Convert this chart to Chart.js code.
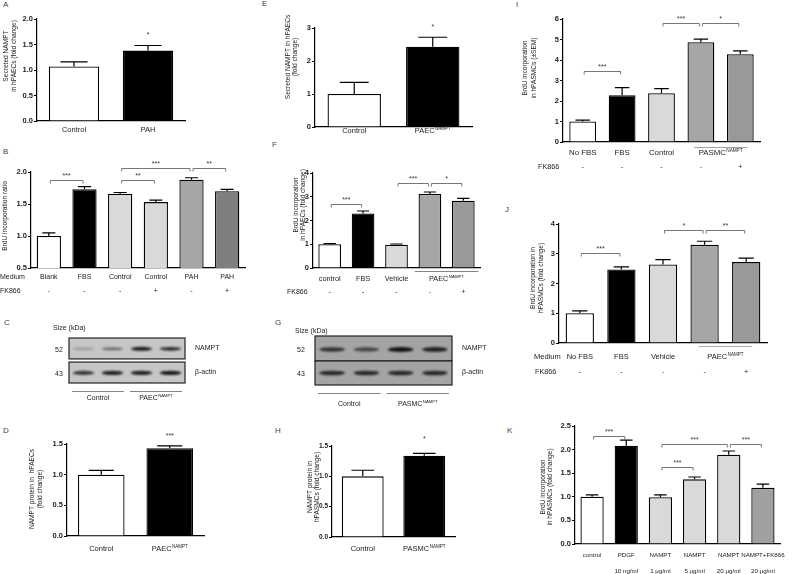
<!DOCTYPE html>
<html>
<head>
<meta charset="utf-8">
<script src="https://cdn.jsdelivr.net/npm/chart.js@4.4.1/dist/chart.umd.min.js"></script>
<style>
  body { margin: 0; background: #fff; }
  #fig { position: relative; width: 800px; height: 574px; overflow: hidden; font-family: "Liberation Sans", Arial, sans-serif; }
  .panel { position: absolute; }
  .letter { position: absolute; font-size: 8px; line-height: 8px; color: #444; }
</style>
</head>
<body>
<div id="fig">
  <div class="letter" style="left:3px;top:1px">A</div>
  <div class="letter" style="left:3px;top:148px">B</div>
  <div class="letter" style="left:4px;top:319px">C</div>
  <div class="letter" style="left:3px;top:427px">D</div>
  <div class="letter" style="left:262px;top:0px">E</div>
  <div class="letter" style="left:272px;top:141px">F</div>
  <div class="letter" style="left:275px;top:319px">G</div>
  <div class="letter" style="left:275px;top:427px">H</div>
  <div class="letter" style="left:516px;top:1px">I</div>
  <div class="letter" style="left:505px;top:206px">J</div>
  <div class="letter" style="left:507px;top:427px">K</div>
</div>
<script>
// ---- data ----
// A: secreted NAMPT in hPAECs
const aLabels = ["Control", "PAH"];
const aValues = [1.07, 1.38];
const aSem = [0.09, 0.10];

// B: BrdU incorporation ratio
const bLabels = ["Blank", "FBS", "Control", "Control", "PAH", "PAH"];
const bFk866 = ["-", "-", "-", "+", "-", "+"];
const bValues = [1.0, 1.73, 1.66, 1.53, 1.88, 1.70];
const bSem = [0.05, 0.04, 0.02, 0.03, 0.03, 0.03];

// C: western blot, band strength per lane
const cGroups = ["Control", "PAEC^NAMPT"];
const cNampt = [0.25, 0.5, 0.95, 0.85];
const cActin = [0.8, 0.9, 0.9, 0.95];

// D: NAMPT protein in hPAECs
const dLabels = ["Control", "PAEC^NAMPT"];
const dValues = [1.0, 1.43];
const dSem = [0.07, 0.04];

// E: secreted NAMPT in hPAECs
const eLabels = ["Control", "PAEC^NAMPT"];
const eValues = [1.0, 2.43];
const eSem = [0.35, 0.29];

// F: BrdU incorporation in hPAECs
const fLabels = ["control", "FBS", "Vehicle", "PAEC^NAMPT", "PAEC^NAMPT"];
const fFk866 = ["-", "-", "-", "-", "+"];
const fValues = [1.0, 2.3, 0.98, 3.12, 2.83];
const fSem = [0.03, 0.1, 0.03, 0.08, 0.1];

// G: western blot
const gGroups = ["Control", "PASMC^NAMPT"];
const gNampt = [0.8, 0.65, 1.0, 0.9];
const gActin = [0.85, 0.85, 0.85, 0.85];

// H: NAMPT protein in hPASMCs
const hLabels = ["Control", "PASMC^NAMPT"];
const hValues = [1.0, 1.34];
const hSem = [0.1, 0.04];

// I: BrdU incorporation in hPASMCs
const iLabels = ["No FBS", "FBS", "Control", "PASMC^NAMPT", "PASMC^NAMPT"];
const iFk866 = ["-", "-", "-", "-", "+"];
const iValues = [1.0, 2.28, 2.38, 4.87, 4.28];
const iSem = [0.07, 0.37, 0.22, 0.15, 0.17];

// J: BrdU incorporation in hPASMCs
const jLabels = ["No FBS", "FBS", "Vehicle", "PAEC^NAMPT", "PAEC^NAMPT"];
const jFk866 = ["-", "-", "-", "-", "+"];
const jValues = [1.0, 2.47, 2.64, 3.3, 2.72];
const jSem = [0.08, 0.09, 0.16, 0.12, 0.13];

// K: BrdU incorporation, NAMPT doses
const kLabels = ["control", "PDGF", "NAMPT", "NAMPT", "NAMPT", "NAMPT+FK866"];
const kDoses = ["", "10 ng/ml", "1 μg/ml", "5 μg/ml", "20 μg/ml", "20 μg/ml"];
const kValues = [1.0, 2.08, 0.99, 1.37, 1.89, 1.19];
const kSem = [0.04, 0.12, 0.05, 0.05, 0.08, 0.08];

// ---- drawing helpers ----
const fig = document.getElementById("fig");
const FONT = '"Liberation Sans", Arial, sans-serif';

function makeCanvas(rect) {
  const box = document.createElement("div");
  box.className = "panel";
  box.style.left = rect[0] + "px";
  box.style.top = rect[1] + "px";
  box.style.width = rect[2] + "px";
  box.style.height = rect[3] + "px";
  const canvas = document.createElement("canvas");
  box.appendChild(canvas);
  fig.appendChild(box);
  return canvas;
}

// label "PAEC^NAMPT" -> PAEC with superscript NAMPT
function drawLabel(ctx, label, x, y, size, align) {
  const parts = label.split("^");
  const supSize = size * 0.6;
  ctx.font = size + "px " + FONT;
  const w1 = ctx.measureText(parts[0]).width;
  let w2 = 0;
  if (parts[1]) {
    ctx.font = supSize + "px " + FONT;
    w2 = ctx.measureText(parts[1]).width + 0.5;
  }
  const x0 = align === "left" ? x : x - (w1 + w2) / 2;
  ctx.textAlign = "left";
  ctx.textBaseline = "middle";
  ctx.font = size + "px " + FONT;
  ctx.fillText(parts[0], x0, y);
  if (parts[1]) {
    ctx.font = supSize + "px " + FONT;
    ctx.fillText(parts[1], x0 + w1 + 0.5, y - size * 0.32);
  }
}

function drawTitle(ctx, lines, xs, cy, size) {
  ctx.save();
  ctx.font = size + "px " + FONT;
  ctx.textAlign = "center";
  ctx.textBaseline = "middle";
  lines.forEach((line, k) => {
    ctx.save();
    ctx.translate(xs[k], cy);
    ctx.rotate(-Math.PI / 2);
    ctx.fillText(line, 0, 0);
    ctx.restore();
  });
  ctx.restore();
}

function barAnnotations(opt) {
  const [L, T] = opt.rect;
  return {
    id: "annot",
    afterDatasetsDraw(chart) {
      const ctx = chart.ctx;
      const xs = chart.scales.x;
      const ys = chart.scales.y;
      const meta = chart.getDatasetMeta(0);
      ctx.save();

      // error bars (SEM, upward)
      ctx.strokeStyle = "#000";
      ctx.lineWidth = 1.2;
      meta.data.forEach((bar, i) => {
        const top = ys.getPixelForValue(opt.values[i] + opt.sem[i]);
        const cap = bar.width * 0.27;
        ctx.beginPath();
        ctx.moveTo(bar.x, bar.y);
        ctx.lineTo(bar.x, top);
        ctx.moveTo(bar.x - cap, top);
        ctx.lineTo(bar.x + cap, top);
        ctx.stroke();
      });

      // significance brackets
      ctx.fillStyle = "#333";
      ctx.strokeStyle = "#555";
      ctx.lineWidth = 0.8;
      (opt.brackets || []).forEach(([a, b, v, txt]) => {
        const x1 = xs.getPixelForValue(a) + 1.5;
        const x2 = xs.getPixelForValue(b) - 1.5;
        const y = Math.round(ys.getPixelForValue(v)) + 0.5;
        ctx.beginPath();
        ctx.moveTo(x1, y + 3);
        ctx.lineTo(x1, y);
        ctx.lineTo(x2, y);
        ctx.lineTo(x2, y + 3);
        ctx.stroke();
        ctx.font = "7px " + FONT;
        ctx.textAlign = "center";
        ctx.textBaseline = "middle";
        ctx.fillText(txt, (x1 + x2) / 2, y - 4);
      });
      (opt.stars || []).forEach(([a, v, txt]) => {
        ctx.font = "7px " + FONT;
        ctx.textAlign = "center";
        ctx.textBaseline = "middle";
        ctx.fillText(txt, xs.getPixelForValue(a), ys.getPixelForValue(v));
      });

      // category rows under the axis
      ctx.fillStyle = "#222";
      opt.rows.forEach(row => {
        const items = [];
        row.texts.forEach((t, i) => {
          const last = items[items.length - 1];
          if (row.merge && last && last.text === t) last.to = i;
          else items.push({ text: t, from: i, to: i });
        });
        items.forEach(it => {
          if (!it.text) return;
          const x = (xs.getPixelForValue(it.from) + xs.getPixelForValue(it.to)) / 2;
          drawLabel(ctx, it.text, x, row.y - T, row.size || 7.2);
        });
        if (row.head) drawLabel(ctx, row.head, row.headX - L, row.y - T, row.size || 7.2, "left");
      });

      // group underline
      if (opt.underline) {
        const u = opt.underline;
        ctx.strokeStyle = u.color || "#666";
        ctx.lineWidth = 0.8;
        ctx.beginPath();
        ctx.moveTo(xs.getPixelForValue(u.from) - u.ext, u.y - T + 0.5);
        ctx.lineTo(xs.getPixelForValue(u.to) + u.ext, u.y - T + 0.5);
        ctx.stroke();
      }

      // y axis title
      ctx.fillStyle = "#222";
      drawTitle(ctx, opt.title.lines, opt.title.xs.map(x => x - L), opt.title.cy - T, opt.title.size || 6.6);
      ctx.restore();
    }
  };
}

function barPanel(opt) {
  const [L, T, W, H] = opt.rect;
  const canvas = makeCanvas(opt.rect);
  return new Chart(canvas, {
    type: "bar",
    data: {
      labels: opt.labels,
      datasets: [{
        data: opt.values,
        backgroundColor: opt.colors,
        borderColor: "#000",
        borderWidth: 1.3,
        barPercentage: 0.68,
        categoryPercentage: 1
      }]
    },
    options: {
      responsive: true,
      maintainAspectRatio: false,
      animation: false,
      events: [],
      layout: { padding: { left: 0, bottom: 0, top: opt.area.top - T, right: L + W - opt.area.right } },
      plugins: { legend: { display: false }, tooltip: { enabled: false } },
      scales: {
        x: {
          grid: { display: false },
          border: { color: "#000", width: 1.2 },
          ticks: { display: false },
          afterFit: s => { s.height = T + H - opt.area.bottom; }
        },
        y: {
          min: opt.yMin,
          max: opt.yMax,
          ticks: {
            stepSize: opt.yStep,
            callback: v => v.toFixed(opt.dec),
            font: { family: FONT, size: opt.tickSize || 7.5, weight: "bold" },
            color: "#222",
            padding: 1
          },
          grid: { drawOnChartArea: false, color: "#000", tickLength: 3, lineWidth: 1 },
          border: { color: "#000", width: 1.2 },
          afterFit: s => { s.width = opt.area.left - L; }
        }
      }
    },
    plugins: [barAnnotations(opt)]
  });
}

function blotPanel(opt) {
  const [L, T, W, H] = opt.rect;
  const canvas = makeCanvas(opt.rect);
  const blot = {
    id: "blot",
    afterDraw(chart) {
      const ctx = chart.ctx;
      const xs = chart.scales.x;
      const ys = chart.scales.y;
      const a = chart.chartArea;
      const laneW = xs.getPixelForValue(1) - xs.getPixelForValue(0);
      ctx.save();
      opt.strips.forEach(st => {
        const y0 = ys.getPixelForValue(st.hi);
        const y1 = ys.getPixelForValue(st.lo);
        ctx.fillStyle = opt.bg;
        ctx.fillRect(a.left, y0, a.right - a.left, y1 - y0);
        ctx.save();
        ctx.beginPath();
        ctx.rect(a.left, y0, a.right - a.left, y1 - y0);
        ctx.clip();
        ctx.filter = "blur(1.2px)";
        st.bands.forEach((s, i) => {
          const cx = xs.getPixelForValue(i + 0.5);
          const cy = ys.getPixelForValue(st.at);
          const bw = laneW * 0.74;
          const bh = st.thick * (0.55 + 0.45 * s);
          ctx.fillStyle = "rgba(18,18,18," + s + ")";
          ctx.beginPath();
          ctx.ellipse(cx, cy, bw / 2, bh / 2, 0, 0, Math.PI * 2);
          ctx.fill();
        });
        ctx.restore();
        ctx.strokeStyle = "#222";
        ctx.lineWidth = 1.2;
        ctx.strokeRect(a.left, y0, a.right - a.left, y1 - y0);
        ctx.fillStyle = "#222";
        drawLabel(ctx, st.size, opt.sizeX - L, ys.getPixelForValue(st.at) + 1, 7, "center");
        drawLabel(ctx, st.name, a.right + 10, ys.getPixelForValue(st.at) - 1, 7, "left");
      });
      drawLabel(ctx, "Size (kDa)", opt.headX - L, opt.headY - T, 7, "left");
      // group lines and labels
      opt.groups.forEach((g, k) => {
        const x1 = xs.getPixelForValue(k * 2) + 3;
        const x2 = xs.getPixelForValue(k * 2 + 2) - 3;
        ctx.strokeStyle = "#666";
        ctx.lineWidth = 0.8;
        ctx.beginPath();
        ctx.moveTo(x1, opt.lineY - T + 0.5);
        ctx.lineTo(x2, opt.lineY - T + 0.5);
        ctx.stroke();
        ctx.fillStyle = "#222";
        drawLabel(ctx, g, (x1 + x2) / 2, opt.textY - T, 7);
      });
      ctx.restore();
    }
  };
  return new Chart(canvas, {
    type: "scatter",
    data: { datasets: [{ data: [] }] },
    options: {
      responsive: true,
      maintainAspectRatio: false,
      animation: false,
      events: [],
      layout: { padding: { left: opt.box.left - L, right: L + W - opt.box.right, top: opt.box.top - T, bottom: T + H - opt.box.bottom } },
      plugins: { legend: { display: false }, tooltip: { enabled: false } },
      scales: {
        x: { type: "linear", min: 0, max: 4, display: false },
        y: { type: "linear", min: 0, max: 2, display: false }
      }
    },
    plugins: [blot]
  });
}

// ---- panels ----
barPanel({
  rect: [0, 8, 200, 130], area: { left: 37, right: 185, top: 19, bottom: 121 },
  yMin: 0, yMax: 2, yStep: 0.5, dec: 1,
  labels: aLabels, values: aValues, sem: aSem, colors: ["#ffffff", "#000000"],
  stars: [[1, 1.69, "*"]],
  rows: [{ y: 130, texts: aLabels, size: 7.5 }],
  title: { lines: ["Secreted NAMPT", "in hPAECs (fold change)"], xs: [6, 14], cy: 56 }
});

barPanel({
  rect: [0, 150, 255, 150], area: { left: 31, right: 245, top: 172, bottom: 268 },
  yMin: 0.5, yMax: 2, yStep: 0.5, dec: 1,
  labels: bLabels, values: bValues, sem: bSem,
  colors: ["#ffffff", "#000000", "#d9d9d9", "#d9d9d9", "#a6a6a6", "#7f7f7f"],
  brackets: [[0, 1, 1.875, "***"], [2, 3, 1.875, "**"], [2, 4, 2.06, "***"], [4, 5, 2.06, "**"]],
  rows: [
    { y: 277, texts: bLabels, head: "Medium", headX: 0, size: 7 },
    { y: 291, texts: bFk866, head: "FK866", headX: 0, size: 7 }
  ],
  title: { lines: ["BrdU incorporation ratio"], xs: [5], cy: 216 }
});

blotPanel({
  rect: [0, 320, 255, 85], box: { left: 69, right: 185, top: 338, bottom: 383 },
  bg: "#c6c6c6", sizeX: 59, headX: 53, headY: 328, lineY: 391, textY: 398,
  groups: cGroups,
  strips: [
    { hi: 2, lo: 1.07, at: 1.52, bands: cNampt, thick: 4, size: "52", name: "NAMPT" },
    { hi: 0.93, lo: 0, at: 0.45, bands: cActin, thick: 4.5, size: "43", name: "β-actin" }
  ]
});

barPanel({
  rect: [0, 428, 215, 135], area: { left: 67, right: 204, top: 444, bottom: 536 },
  yMin: 0, yMax: 1.5, yStep: 0.5, dec: 1,
  labels: dLabels, values: dValues, sem: dSem, colors: ["#ffffff", "#000000"],
  stars: [[1, 1.63, "***"]],
  rows: [{ y: 549, texts: dLabels, size: 7.5 }],
  title: { lines: ["NAMPT protein in  hPAECs", "(fold change)"], xs: [32, 40], cy: 489 }
});

barPanel({
  rect: [258, 8, 222, 130], area: { left: 315, right: 472, top: 28, bottom: 127 },
  yMin: 0, yMax: 3, yStep: 1, dec: 0,
  labels: eLabels, values: eValues, sem: eSem, colors: ["#ffffff", "#000000"],
  stars: [[1, 3.03, "*"]],
  rows: [{ y: 131, texts: eLabels, size: 7.5 }],
  title: { lines: ["Secreted NAMPT in hPAECs", "(fold change)"], xs: [288, 295], cy: 57 }
});

barPanel({
  rect: [258, 150, 230, 150], area: { left: 313, right: 480, top: 173, bottom: 268 },
  yMin: 0, yMax: 4, yStep: 1, dec: 0,
  labels: fLabels, values: fValues, sem: fSem,
  colors: ["#ffffff", "#000000", "#d9d9d9", "#a6a6a6", "#9a9a9a"],
  brackets: [[0, 1, 2.69, "***"], [2, 3, 3.58, "***"], [3, 4, 3.58, "*"]],
  rows: [
    { y: 279, texts: fLabels, merge: true, size: 7.3 },
    { y: 292, texts: fFk866, head: "FK866", headX: 287, size: 7 }
  ],
  underline: { from: 3, to: 4, ext: 15, y: 271 },
  title: { lines: ["BrdU incorporation", "in hPAECs (fold change)"], xs: [296, 303], cy: 205 }
});

blotPanel({
  rect: [258, 320, 255, 90], box: { left: 315, right: 452, top: 336, bottom: 385 },
  bg: "#a4a4a4", sizeX: 301, headX: 295, headY: 331, lineY: 393, textY: 404,
  groups: gGroups,
  strips: [
    { hi: 2, lo: 0.98, at: 1.45, bands: gNampt, thick: 5, size: "52", name: "NAMPT" },
    { hi: 0.98, lo: 0, at: 0.49, bands: gActin, thick: 5, size: "43", name: "β-actin" }
  ]
});

barPanel({
  rect: [258, 430, 210, 130], area: { left: 332, right: 455, top: 446, bottom: 537 },
  yMin: 0, yMax: 1.5, yStep: 0.5, dec: 1, tickSize: 6.5,
  labels: hLabels, values: hValues, sem: hSem, colors: ["#ffffff", "#000000"],
  stars: [[1, 1.61, "*"]],
  rows: [{ y: 549, texts: hLabels, size: 7.5 }],
  title: { lines: ["NAMPT protein in", "hPASMCs (fold change)"], xs: [310, 317], cy: 487 }
});

barPanel({
  rect: [515, 8, 285, 170], area: { left: 563, right: 760, top: 19, bottom: 142 },
  yMin: 0, yMax: 6, yStep: 1, dec: 0,
  labels: iLabels, values: iValues, sem: iSem,
  colors: ["#ffffff", "#000000", "#d9d9d9", "#a6a6a6", "#999999"],
  brackets: [[0, 1, 3.46, "***"], [2, 3, 5.8, "***"], [3, 4, 5.8, "*"]],
  rows: [
    { y: 153, texts: iLabels, merge: true, size: 7.8 },
    { y: 167, texts: iFk866, head: "FK866", headX: 538, size: 7.2 }
  ],
  underline: { from: 3, to: 4, ext: 7, y: 147, color: "#888" },
  title: { lines: ["BrdU incorporation", "in hPASMCs (±SEM)"], xs: [525, 534], cy: 68 }
});

barPanel({
  rect: [515, 210, 285, 170], area: { left: 559, right: 767, top: 224, bottom: 343 },
  yMin: 0, yMax: 4, yStep: 1, dec: 0,
  labels: jLabels, values: jValues, sem: jSem,
  colors: ["#ffffff", "#000000", "#d9d9d9", "#a6a6a6", "#999999"],
  brackets: [[0, 1, 3.03, "***"], [2, 3, 3.8, "*"], [3, 4, 3.8, "**"]],
  rows: [
    { y: 357, texts: jLabels, merge: true, head: "Medium", headX: 534, size: 7.5 },
    { y: 372, texts: jFk866, head: "FK866", headX: 535, size: 7.2 }
  ],
  underline: { from: 3, to: 4, ext: 6, y: 346, color: "#999" },
  title: { lines: ["BrdU incorporation in", "hPASMCs (fold change)"], xs: [533, 541], cy: 278 }
});

barPanel({
  rect: [515, 420, 285, 154], area: { left: 575, right: 780, top: 426, bottom: 544 },
  yMin: 0, yMax: 2.5, yStep: 0.5, dec: 1,
  labels: kLabels, values: kValues, sem: kSem,
  colors: ["#ffffff", "#000000", "#d9d9d9", "#d9d9d9", "#d9d9d9", "#a0a0a0"],
  brackets: [[0, 1, 2.29, "***"], [2, 4, 2.12, "***"], [4, 5, 2.12, "***"], [2, 3, 1.63, "***"]],
  rows: [
    { y: 555, texts: kLabels, size: 6.2 },
    { y: 571, texts: kDoses, size: 6.2 }
  ],
  title: { lines: ["BrdU incorporation", "in hPASMCs (fold change)"], xs: [543, 550], cy: 487 }
});
</script>
</body>
</html>
